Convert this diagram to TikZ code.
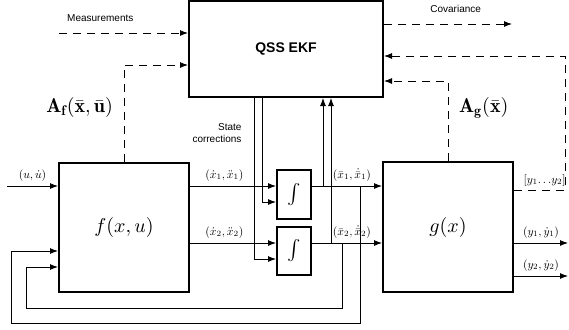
\documentclass[tikz,border=0pt]{standalone}
\usepackage{amsmath, amssymb, bm}
\usepackage{fontspec}
\setsansfont{Liberation Sans}
\usepackage{tikz}
\usetikzlibrary{arrows.meta, positioning, calc}

\begin{document}
\begin{tikzpicture}[x=0.5pt, y=-0.5pt, >={Latex[length=4pt,width=3pt]},
                    blk/.style={draw, line width=1pt, inner sep=0pt},
                    sig/.style={line width=0.45pt},
                    dashsig/.style={line width=0.45pt, dash pattern=on 4pt off 3pt},
                    txt/.style={font=\sffamily\fontsize{5}{6}\selectfont},
                    mlbl/.style={scale=0.58, inner sep=1.5pt}]
                    \useasboundingbox (0,0) rectangle (569,329);
                    % blocks
                    \node[blk, minimum width=97pt, minimum height=48pt, font=\sffamily\bfseries\fontsize{7}{8}\selectfont] (ekf) at (286,49) {QSS EKF};
                    \node[blk, minimum width=65pt, minimum height=64.5pt] (fbox) at (124,227.5) {$f(x,u)$};
                    \node[blk, minimum width=65pt, minimum height=65pt] (gbox) at (448,227) {$g(x)$};
                    \node[blk, minimum width=17pt, minimum height=24.5pt] (intA) at (294,194.5) {$\int$};
                    \node[blk, minimum width=17pt, minimum height=24pt] (intB) at (294,251) {$\int$};
                    % rows and corners
                    \coordinate (rowA) at (7,186);
                    \coordinate (rowB) at (7,243);
                    \coordinate (measin) at (59,33);
                    \coordinate (covout) at (512,24);
                    \coordinate (afin) at (124,65);
                    \coordinate (agin) at (448,81);
                    \coordinate (ycorner) at (565,56);
                    \coordinate (corrA) at (262,202);
                    \coordinate (corrB) at (254,259);
                    \coordinate (tapA) at (323,186);
                    \coordinate (tapB) at (331,243);
                    \coordinate (fbA) at (360,186);
                    \coordinate (fbB) at (342,243);
                    \coordinate (loopA) at (11,323);
                    \coordinate (loopB) at (26,308);
                    \coordinate (inA) at (59,251);
                    \coordinate (inB) at (59,267);
                    \coordinate (youtA) at (568,243);
                    \coordinate (youtB) at (568,276);
                    % filter signals
                    \draw[dashsig, ->] (measin) -- (measin -| ekf.west) node[txt, pos=0.32, above=2pt] (measlbl) {Measurements};
                    \draw[dashsig, ->] (ekf.east |- covout) -- (covout) node[txt, pos=0.56, above=2pt] (covlbl) {Covariance};
                    \draw[dashsig, ->] (fbox.north) |- (ekf.west |- afin) node[pos=0.28, left=2pt] (aflbl) {$\mathbf{A_f}(\bar{\mathbf{x}},\bar{\mathbf{u}})$};
                    \draw[dashsig, ->] (gbox.north) |- (ekf.east |- agin) node[pos=0.33, right=2pt] (aglbl) {$\mathbf{A_g}(\bar{\mathbf{x}})$};
                    \draw[dashsig, ->] (gbox.east |- 0,190) -| (ycorner) node[mlbl, pos=0.3, above=1pt] (ylbl) {$[y_1\!\ldots\! y_2]$} -- (ekf.east |- ycorner);
                    % state corrections
                    \node[txt, align=right, anchor=east] (corrlbl) at (248.5,133) {State\\corrections};
                    \draw[sig, ->] (corrA |- ekf.south) |- (intA.west |- corrA);
                    \draw[sig, ->] (corrB |- ekf.south) |- (intB.west |- corrB);
                    \draw[sig, ->] (tapA) -- (tapA |- ekf.south);
                    \draw[sig, ->] (tapB) -- (tapB |- ekf.south);
                    % forward path
                    \draw[sig, ->] (rowA) -- (rowA -| fbox.west) node[mlbl, midway, above=1.5pt] (ulbl) {$(u,\dot{u})$};
                    \draw[sig, ->] (rowA -| fbox.east) -- (rowA -| intA.west) node[mlbl, pos=0.4, above=1.5pt] (dxAlbl) {$(\dot{x}_1,\ddot{x}_1)$};
                    \draw[sig, ->] (rowB -| fbox.east) -- (rowB -| intB.west) node[mlbl, pos=0.4, above=1.5pt] (dxBlbl) {$(\dot{x}_2,\ddot{x}_2)$};
                    \draw[sig, ->] (rowA -| intA.east) -- (rowA -| gbox.west) node[mlbl, pos=0.57, above=1.5pt] (xAlbl) {$(\bar{x}_1,\dot{\bar{x}}_1)$};
                    \draw[sig, ->] (rowB -| intB.east) -- (rowB -| gbox.west) node[mlbl, pos=0.57, above=1.5pt] (xBlbl) {$(\bar{x}_2,\dot{\bar{x}}_2)$};
                    \draw[sig, ->] (youtA -| gbox.east) -- (youtA) node[mlbl, midway, above=1.5pt] (yAlbl) {$(y_1,\dot{y}_1)$};
                    \draw[sig, ->] (youtB -| gbox.east) -- (youtB) node[mlbl, midway, above=1.5pt] (yBlbl) {$(y_2,\dot{y}_2)$};
                    % feedback loops
                    \draw[sig, ->] (fbA) |- (loopA) |- (inA -| fbox.west);
                    \draw[sig, ->] (fbB) |- (loopB) |- (inB -| fbox.west);
                \end{tikzpicture}
\end{document}
